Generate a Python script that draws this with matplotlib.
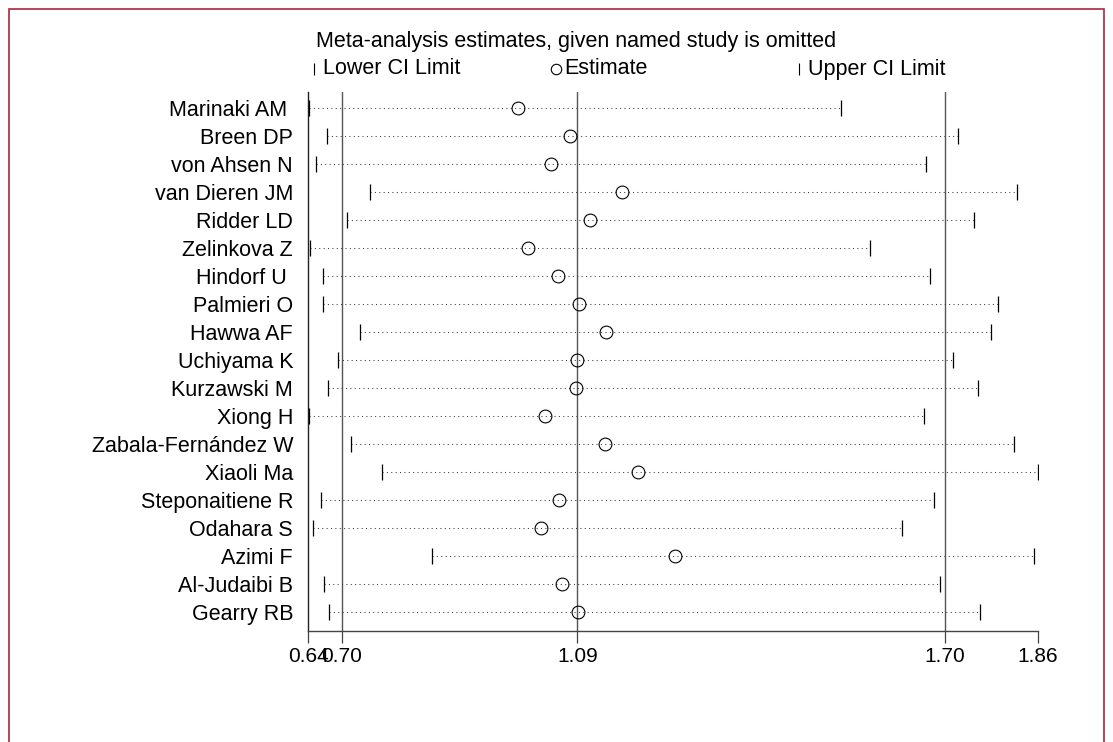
import matplotlib
matplotlib.use("Agg")
import matplotlib.pyplot as plt
from matplotlib.lines import Line2D
from matplotlib.patches import Rectangle

plt.rcParams['font.family'] = ['Liberation Sans', 'DejaVu Sans']

studies = ["Marinaki AM ", "Breen DP", "von Ahsen N", "van Dieren JM", "Ridder LD",
           "Zelinkova Z", "Hindorf U ", "Palmieri O", "Hawwa AF", "Uchiyama K",
           "Kurzawski M", "Xiong H", "Zabala-Fernández W", "Xiaoli Ma",
           "Steponaitiene R", "Odahara S", "Azimi F", "Al-Judaibi B", "Gearry RB"]
lower = [0.641, 0.672, 0.653, 0.744, 0.705, 0.643, 0.664, 0.665, 0.727, 0.690,
         0.673, 0.642, 0.711, 0.764, 0.662, 0.648, 0.847, 0.667, 0.675]
est = [0.990, 1.078, 1.046, 1.165, 1.112, 1.007, 1.057, 1.093, 1.138, 1.089,
       1.088, 1.036, 1.137, 1.192, 1.059, 1.030, 1.253, 1.065, 1.091]
upper = [1.531, 1.727, 1.673, 1.826, 1.753, 1.579, 1.680, 1.793, 1.782, 1.719,
         1.760, 1.670, 1.821, 1.860, 1.686, 1.633, 1.854, 1.697, 1.763]

pooled = [0.6964, 1.09, 1.7045]
tick_vals = [0.64, 0.6964, 1.09, 1.7045, 1.86]
tick_labels = ["0.64", "0.70", "1.09", "1.70", "1.86"]

W, H = 1113, 742
fig = plt.figure(figsize=(W / 100, H / 100), dpi=100)

# red outer frame
fig.add_artist(Rectangle((9 / W, -0.1), (1104 - 9) / W, 1.1 - 9 / H,
                         transform=fig.transFigure, fill=False,
                         edgecolor='#a8283c', linewidth=1.2))

ax = fig.add_axes([308.3 / W, (H - 631) / H, 729.4 / W, (631 - 92) / H])
n = len(studies)
ys = list(range(n))

for p in pooled:
    ax.axvline(p, color='#555555', linewidth=1.0, zorder=1)

for y, lo, hi in zip(ys, lower, upper):
    ax.plot([lo, hi], [y, y], color='#3a3a3a', linewidth=0.75,
            linestyle=(0, (1, 3.2)), zorder=2)
ax.plot(lower, ys, linestyle='none', marker='|', markersize=11,
        markeredgewidth=0.9, color='black', zorder=3)
ax.plot(upper, ys, linestyle='none', marker='|', markersize=11,
        markeredgewidth=0.9, color='black', zorder=3)
ax.plot(est, ys, linestyle='none', marker='o', markersize=9.2,
        markerfacecolor='none', markeredgecolor='black', markeredgewidth=0.8,
        zorder=4)

ax.set_xlim(0.64, 1.86)
ax.set_ylim(n - 1 + 19 / 28, -16 / 28)
ax.set_xticks(tick_vals)
ax.set_xticklabels(tick_labels, fontsize=15)
ax.set_yticks(ys)
ax.set_yticklabels(studies, fontsize=15.5)
ax.tick_params(axis='y', length=0, pad=11)
ax.tick_params(axis='x', direction='out', length=8.6, width=0.9,
               color='#444444', pad=3)
for s in ['top', 'right']:
    ax.spines[s].set_visible(False)
ax.spines['bottom'].set_color('#444444')
ax.spines['left'].set_color('#222222')
ax.spines['bottom'].set_linewidth(1.0)
ax.spines['left'].set_linewidth(1.0)

# title and legend row
fig.text(316 / W, 1 - 42 / H, "Meta-analysis estimates, given named study is omitted",
         fontsize=15.5, ha='left', va='center')
ly = 1 - 69 / H
fig.add_artist(Line2D([314 / W], [ly], marker='|', markersize=8,
                      markeredgewidth=0.8, color='black',
                      transform=fig.transFigure))
fig.text(323 / W, ly, "Lower CI Limit", fontsize=15.5, ha='left', va='center')
fig.add_artist(Line2D([556 / W], [ly], marker='o', markersize=7.5,
                      markerfacecolor='none', markeredgecolor='black',
                      markeredgewidth=0.8, transform=fig.transFigure))
fig.text(564 / W, ly, "Estimate", fontsize=15.5, ha='left', va='center')
fig.add_artist(Line2D([799 / W], [ly], marker='|', markersize=8,
                      markeredgewidth=0.8, color='black',
                      transform=fig.transFigure))
fig.text(808 / W, ly, "Upper CI Limit", fontsize=15.5, ha='left', va='center')

fig.savefig("out.png", dpi=100)
